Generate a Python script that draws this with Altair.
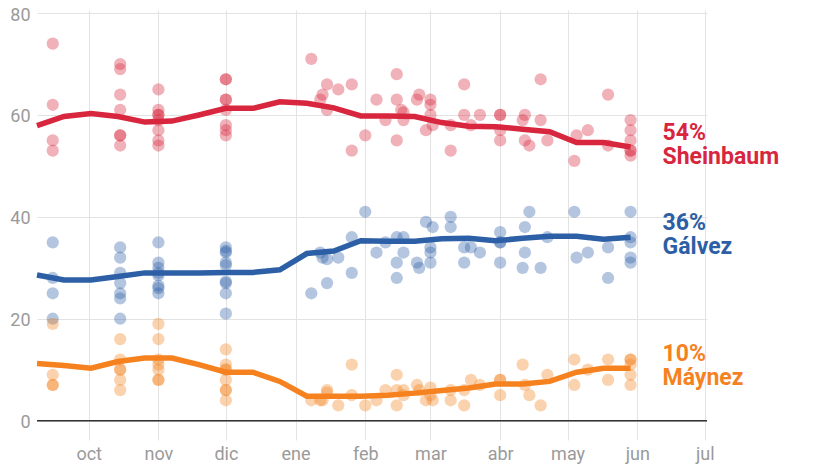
import json
import altair as alt
import pandas as pd

# ---------------- data ----------------
candidates = ["Sheinbaum", "Gálvez", "Máynez"]
colors = ["#d7263d", "#2c5fa5", "#f5821f"]

# smoothed average (every 12 days)
trend_dates = [
    "2023-09-08", "2023-09-20", "2023-10-02", "2023-10-14", "2023-10-26",
    "2023-11-07", "2023-11-19", "2023-12-01", "2023-12-13", "2023-12-25",
    "2024-01-06", "2024-01-18", "2024-01-30", "2024-02-11", "2024-02-23",
    "2024-03-06", "2024-03-18", "2024-03-30", "2024-04-11", "2024-04-23",
    "2024-05-05", "2024-05-17", "2024-05-29",
]
sheinbaum_trend = [57.9, 59.7, 60.3, 59.7, 58.6, 58.8, 60.0, 61.3, 61.3, 62.6,
                   62.3, 61.4, 59.8, 59.8, 59.7, 58.5, 57.8, 57.7, 57.2, 56.7,
                   54.6, 54.6, 53.7]
galvez_trend = [28.6, 27.6, 27.6, 28.3, 29.0, 29.0, 29.0, 29.1, 29.1, 29.6,
                32.8, 33.3, 35.3, 35.2, 35.2, 35.7, 35.8, 35.3, 35.8, 36.2,
                36.2, 35.6, 36.0]
maynez_trend = [11.2, 10.8, 10.3, 11.6, 12.3, 12.3, 11.0, 9.5, 9.5, 7.7,
                4.8, 4.8, 4.8, 5.0, 5.4, 5.9, 6.4, 7.2, 7.2, 7.7,
                9.5, 10.3, 10.3]

# individual polls: (date, values)
sheinbaum_polls = [
    ("2023-09-15", [74, 62, 55, 53]),
    ("2023-10-15", [70, 69, 64, 61, 56, 56, 54]),
    ("2023-11-01", [65, 61, 60, 60, 59, 57, 55, 54]),
    ("2023-12-01", [67, 67, 63, 63, 61, 58, 57, 56]),
    ("2024-01-08", [71]), ("2024-01-12", [63]), ("2024-01-13", [64]),
    ("2024-01-15", [66, 61]), ("2024-01-20", [65]), ("2024-01-26", [66, 53]),
    ("2024-02-01", [56]), ("2024-02-06", [63]), ("2024-02-10", [59]),
    ("2024-02-15", [68, 63, 55]), ("2024-02-17", [61]), ("2024-02-18", [60.5, 59]),
    ("2024-02-24", [63]), ("2024-02-25", [64]), ("2024-02-28", [57]),
    ("2024-03-01", [63, 62, 60]), ("2024-03-02", [58]), ("2024-03-10", [58, 53]),
    ("2024-03-16", [66, 60]), ("2024-03-19", [58]), ("2024-03-23", [60]),
    ("2024-04-01", [60, 60, 57, 55]), ("2024-04-11", [59]), ("2024-04-12", [60, 55]),
    ("2024-04-14", [54]), ("2024-04-19", [67, 59]), ("2024-04-22", [55]),
    ("2024-05-04", [51]), ("2024-05-05", [56]), ("2024-05-10", [57]),
    ("2024-05-19", [64, 54]), ("2024-05-29", [59, 57, 55, 53, 53, 52]),
]
galvez_polls = [
    ("2023-09-15", [35, 28, 25, 20]),
    ("2023-10-15", [34, 32, 29, 27, 25, 24, 20]),
    ("2023-11-01", [35, 31, 30, 29, 28.5, 26.5, 26, 25]),
    ("2023-12-01", [34, 33.3, 33, 31, 30.5, 27.3, 27, 25, 21]),
    ("2024-01-08", [25]), ("2024-01-12", [33]), ("2024-01-13", [32]),
    ("2024-01-15", [31.7, 27]), ("2024-01-20", [32]), ("2024-01-26", [36, 29]),
    ("2024-02-01", [41]), ("2024-02-06", [33]), ("2024-02-10", [35]),
    ("2024-02-15", [36, 31, 28]), ("2024-02-18", [36, 33]),
    ("2024-02-24", [31]), ("2024-02-25", [30]), ("2024-02-28", [39]),
    ("2024-03-01", [34, 33, 31]), ("2024-03-02", [38]), ("2024-03-10", [40, 38]),
    ("2024-03-16", [34, 31]), ("2024-03-19", [34]), ("2024-03-23", [33]),
    ("2024-04-01", [37, 35, 35, 31]), ("2024-04-11", [30]), ("2024-04-12", [38, 33]),
    ("2024-04-14", [41]), ("2024-04-19", [30]), ("2024-04-22", [36]),
    ("2024-05-04", [41]), ("2024-05-05", [32]), ("2024-05-10", [33]),
    ("2024-05-19", [34, 28]), ("2024-05-29", [41, 36, 35, 32, 31]),
]
maynez_polls = [
    ("2023-09-15", [19, 9, 7, 7]),
    ("2023-10-15", [16, 12, 10, 10, 8, 6]),
    ("2023-11-01", [19, 16, 12, 11, 10, 8, 8]),
    ("2023-12-01", [14, 11, 10, 10, 8, 6, 6, 4]),
    ("2024-01-08", [4]), ("2024-01-12", [4]), ("2024-01-13", [4]),
    ("2024-01-15", [6, 5.5]), ("2024-01-20", [3]), ("2024-01-26", [11, 5]),
    ("2024-02-01", [3]), ("2024-02-06", [4]), ("2024-02-10", [6]),
    ("2024-02-15", [9, 6, 3]), ("2024-02-18", [6, 5]),
    ("2024-02-24", [7]), ("2024-02-25", [6]), ("2024-02-28", [4]),
    ("2024-03-01", [6.5, 5]), ("2024-03-02", [4]), ("2024-03-10", [6, 4]),
    ("2024-03-16", [6, 3]), ("2024-03-19", [8]), ("2024-03-23", [7]),
    ("2024-04-01", [8, 8, 5]), ("2024-04-11", [11]), ("2024-04-12", [7]),
    ("2024-04-14", [5]), ("2024-04-19", [3]), ("2024-04-22", [9]),
    ("2024-05-04", [12, 7]), ("2024-05-10", [10]),
    ("2024-05-19", [12, 8]), ("2024-05-29", [12, 12, 11, 9, 7]),
]

month_labels = ["ene", "feb", "mar", "abr", "may", "jun",
                "jul", "ago", "sep", "oct", "nov", "dic"]
tick_months = [(2023, 10), (2023, 11), (2023, 12), (2024, 1), (2024, 2),
               (2024, 3), (2024, 4), (2024, 5), (2024, 6), (2024, 7)]
y_ticks = [0, 20, 40, 60, 80]

# ---------------- tables ----------------
poll_rows = []
for name, polls in zip(candidates, [sheinbaum_polls, galvez_polls, maynez_polls]):
    for d, vals in polls:
        for v in vals:
            poll_rows.append({"date": d + "T00:00:00", "value": v, "candidate": name})
polls_df = pd.DataFrame(poll_rows)

trend_rows = []
for name, series in zip(candidates, [sheinbaum_trend, galvez_trend, maynez_trend]):
    for d, v in zip(trend_dates, series):
        trend_rows.append({"date": d + "T00:00:00", "value": v, "candidate": name})
trend_df = pd.DataFrame(trend_rows)

label_df = pd.DataFrame({
    "candidate": candidates,
    "date": [trend_dates[-1] + "T00:00:00"] * 3,
    "value": [s[-1] for s in [sheinbaum_trend, galvez_trend, maynez_trend]],
})
label_df["pct"] = [f"{round(v)}%" for v in label_df["value"]]

# ---------------- chart ----------------
FONT = "Roboto"
xscale = alt.Scale(domain=[alt.DateTime(year=2023, month=9, date=8),
                           alt.DateTime(year=2024, month=7, date=2)])
yscale = alt.Scale(domain=[-3.8, 80.6], nice=False, zero=False)
cscale = alt.Scale(domain=candidates, range=colors)

xaxis = alt.Axis(
    values=[alt.DateTime(year=y, month=m, date=1) for y, m in tick_months],
    labelExpr=json.dumps(month_labels) + "[month(datum.value)]",
    title=None, domain=False, ticks=False, grid=True,
    labelPadding=5, labelFontSize=18, labelColor="#9a9a9a", labelFont=FONT,
    gridColor="#e3e3e3", gridWidth=1,
)
yaxis = alt.Axis(
    values=y_ticks, title=None, domain=False, ticks=False, grid=True,
    labelPadding=7, labelOffset=2, labelFontSize=18, labelColor="#9a9a9a",
    labelFont=FONT, gridColor="#e3e3e3", gridWidth=1,
)

X = alt.X("date:T", scale=xscale, axis=xaxis)
Y = alt.Y("value:Q", scale=yscale, axis=yaxis)
C = alt.Color("candidate:N", scale=cscale, legend=None)

zero = alt.Chart(pd.DataFrame({"value": [0]})).mark_rule(
    color="#333333", strokeWidth=1.5
).encode(y=alt.Y("value:Q", scale=yscale, axis=yaxis))

points = alt.Chart(polls_df).mark_circle(size=150, opacity=0.36).encode(
    x=X, y=Y, color=C
)

lines = alt.Chart(trend_df).mark_line(strokeWidth=5.5).encode(
    x=X, y=Y, color=C, detail="candidate:N"
)

text_style = dict(align="left", baseline="middle", fontSize=23,
                  fontWeight="bold", font=FONT, dx=32)
pct_labels = alt.Chart(label_df).mark_text(dy=-14, **text_style).encode(
    x=X, y=Y, text="pct:N", color=C
)
name_labels = alt.Chart(label_df).mark_text(dy=10, **text_style).encode(
    x=X, y=Y, text="candidate:N", color=C
)

chart = alt.layer(zero, points, lines, pct_labels, name_labels).properties(
    width=670, height=430,
    padding={"left": 29, "top": 2, "right": 90, "bottom": 26},
    autosize=alt.AutoSizeParams(type="none"),
).configure_view(stroke=None)

chart.save("out.html", embed_options={"renderer": "svg", "actions": False})
